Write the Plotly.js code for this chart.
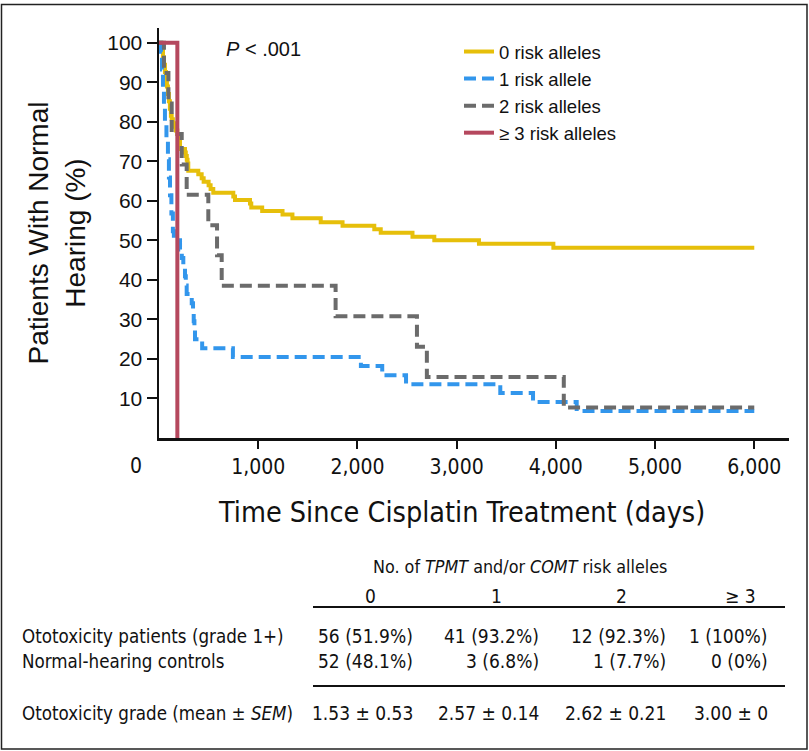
<!DOCTYPE html>
<html><head><meta charset="utf-8">
<script src="https://cdn.plot.ly/plotly-3.0.1.min.js"></script>
<style>html,body{margin:0;padding:0;background:#fff}#chart{width:809px;height:751px}</style>
</head><body><div id="chart"></div>
<script>
// ---- data ----
const seriesNames = ['0 risk alleles', '1 risk allele', '2 risk alleles', '\u2265 3 risk alleles'];
const days0 = [0, 27, 30, 40, 50, 60, 70, 80, 90, 100, 110, 120, 128, 140, 155, 170, 185, 195, 212, 262, 270, 280, 288, 295, 396, 430, 450, 500, 520, 547, 749, 766, 917, 930, 1040, 1245, 1345, 1630, 1850, 2170, 2235, 2555, 2775, 3225, 3975, 6000];
const surv0 = [100, 99.1, 98.1, 96.3, 94.4, 92.6, 90.7, 88.9, 87.0, 85.2, 83.3, 81.5, 80.6, 79.6, 78.7, 77.8, 76.9, 75.9, 73.1, 72.2, 71.3, 70.4, 69.4, 67.6, 66.7, 65.7, 64.8, 63.9, 63.0, 62.0, 61.1, 60.2, 59.3, 58.3, 57.4, 56.5, 55.6, 54.6, 53.7, 52.8, 51.9, 50.9, 50.0, 49.1, 48.1, 48.1];
const days1 = [0, 20, 30, 40, 50, 60, 75, 90, 100, 111, 125, 140, 150, 212, 230, 245, 262, 270, 279, 330, 343, 350, 357, 363, 435, 745, 2035, 2250, 2490, 3440, 3770, 4210, 6000];
const surv1 = [100, 97.7, 93.2, 88.6, 84.1, 79.5, 75.0, 70.5, 65.9, 61.4, 56.8, 52.3, 50.0, 47.7, 45.5, 43.2, 40.9, 38.6, 36.4, 34.1, 31.8, 29.5, 27.3, 25.0, 22.7, 20.5, 18.2, 15.9, 13.6, 11.4, 9.1, 6.8, 6.8];
const days2 = [0, 50, 95, 128, 229, 279, 497, 585, 632, 1780, 2600, 2700, 4080, 6000];
const surv2 = [100, 92.3, 84.6, 76.9, 69.2, 61.5, 53.8, 46.2, 38.5, 30.8, 23.1, 15.4, 7.7, 7.7];
const days3 = [0, 185];
const surv3 = [100, 0];
const xTickVals = [1000, 2000, 3000, 4000, 5000, 6000];
const xTickText = ['1,000', '2,000', '3,000', '4,000', '5,000', '6,000'];
const yTickVals = [10, 20, 30, 40, 50, 60, 70, 80, 90, 100];
const xTitle = 'Time Since Cisplatin Treatment (days)';
const yTitle = 'Patients With Normal<br>Hearing (%)';
const pValueText = '<i>P</i> < .001';
const tableTitle = 'No. of <i>TPMT</i> and/or <i>COMT</i> risk alleles';
const tableCols = ['0', '1', '2', '\u2265 3'];
const rowLabels = ['Ototoxicity patients (grade 1+)', 'Normal-hearing controls', 'Ototoxicity grade (mean \u00b1 <i>SEM</i>)'];
const rowPatients = ['56 (51.9%)', '41 (93.2%)', '12 (92.3%)', '1 (100%)'];
const rowControls = ['52 (48.1%)', '3 (6.8%)', '1 (7.7%)', '0 (0%)'];
const rowGrade = ['1.53 \u00b1 0.53', '2.57 \u00b1 0.14', '2.62 \u00b1 0.21', '3.00 \u00b1 0'];

// ---- styling / layout ----
const colors = ['#e6bf0a', '#3296ec', '#6b6b6b', '#b5485e'];
const dashes = ['solid', '12px,6px', '12px,6px', 'solid'];
const W = 809, H = 751, L = 159, R = 20, T = 28, B = 313;
const PW = W - L - R, PH = H - T - B;
const px = v => (v - L) / PW;
const py = v => (H - B - v) / PH;
const narrow = '"DejaVu Sans Condensed", "Liberation Sans Narrow", "Liberation Sans", sans-serif';
const sans = '"Liberation Sans", Arial, sans-serif';

const xs = [days0, days1, days2, days3];
const ys = [surv0, surv1, surv2, surv3];
const traces = xs.map((x, i) => ({
  x: x, y: ys[i], type: 'scatter', mode: 'lines', name: seriesNames[i],
  line: {shape: 'hv', color: colors[i], width: 4, dash: dashes[i]},
  hoverinfo: 'x+y'
}));

const annotations = [];
const shapes = [];
annotations.push({xref: 'paper', yref: 'paper', x: px(263), y: py(49), text: pValueText, showarrow: false,
  font: {family: sans, size: 20, color: '#111'}, xanchor: 'center', yanchor: 'middle'});
annotations.push({xref: 'paper', yref: 'paper', x: px(136), y: py(466), text: '0', showarrow: false,
  font: {family: narrow, size: 21, color: '#111'}, xanchor: 'center', yanchor: 'middle'});
annotations.push({xref: 'paper', yref: 'paper', x: px(461), y: py(512), text: xTitle, showarrow: false,
  font: {family: narrow, size: 28.5, color: '#111'}, xanchor: 'center', yanchor: 'middle'});
// table
const tf = {family: narrow, size: 19, color: '#111'};
annotations.push({xref: 'paper', yref: 'paper', x: px(520), y: py(566), text: tableTitle, showarrow: false, font: {family: narrow, size: 17.8, color: '#111'}, xanchor: 'center', yanchor: 'middle'});
const colCenters = [370, 496, 621, 740];
const colRights = [415, 541, 668, 770];
tableCols.forEach((c, i) => annotations.push({xref: 'paper', yref: 'paper', x: px(colCenters[i]), y: py(596), text: c, showarrow: false, font: tf, xanchor: 'center', yanchor: 'middle'}));
const rows = [rowPatients, rowControls, rowGrade];
const rowY = [636, 661, 713];
rows.forEach((r, ri) => {
  annotations.push({xref: 'paper', yref: 'paper', x: px(20), y: py(rowY[ri]), text: rowLabels[ri], showarrow: false, font: {family: narrow, size: 18.6, color: '#111'}, xanchor: 'left', yanchor: 'middle'});
  r.forEach((v, ci) => annotations.push({xref: 'paper', yref: 'paper', x: px(colRights[ci]), y: py(rowY[ri]), text: v, showarrow: false, font: tf, xanchor: 'right', yanchor: 'middle'}));
});
[607, 686].forEach(yy => shapes.push({type: 'line', xref: 'paper', yref: 'paper', x0: px(313), x1: px(785), y0: py(yy), y1: py(yy), line: {color: '#111', width: 2}}));
// outer frame
shapes.push({type: 'rect', xref: 'paper', yref: 'paper', x0: px(1.5), x1: px(807), y0: py(4.5), y1: py(749), line: {color: '#222', width: 1.5}});

const layout = {
  width: W, height: H,
  margin: {l: L, r: R, t: T, b: B, pad: 0},
  paper_bgcolor: '#fff', plot_bgcolor: '#fff',
  showlegend: true,
  legend: {x: px(459), y: py(33), xanchor: 'left', yanchor: 'top', bgcolor: 'rgba(0,0,0,0)',
    font: {family: sans, size: 18.5, color: '#111'}, tracegroupgap: 0},
  xaxis: {range: [0, 6350], tickvals: xTickVals, ticktext: xTickText, showgrid: false, zeroline: false,
    showline: true, linecolor: '#111', linewidth: 2.5, ticks: 'outside', ticklen: 8, tickwidth: 2, tickcolor: '#111',
    tickfont: {family: narrow, size: 21, color: '#111'}},
  yaxis: {range: [0, 103.7], tickvals: yTickVals, showgrid: false, zeroline: false,
    showline: true, linecolor: '#111', linewidth: 2.5, ticks: 'outside', ticklen: 10, tickwidth: 2, tickcolor: '#111',
    tickfont: {family: sans, size: 21, color: '#111'},
    title: {text: yTitle, font: {family: sans, size: 28, color: '#111'}, standoff: 14}},
  annotations: annotations, shapes: shapes
};
Plotly.newPlot('chart', traces, layout, {displayModeBar: false, staticPlot: true});
</script></body></html>
